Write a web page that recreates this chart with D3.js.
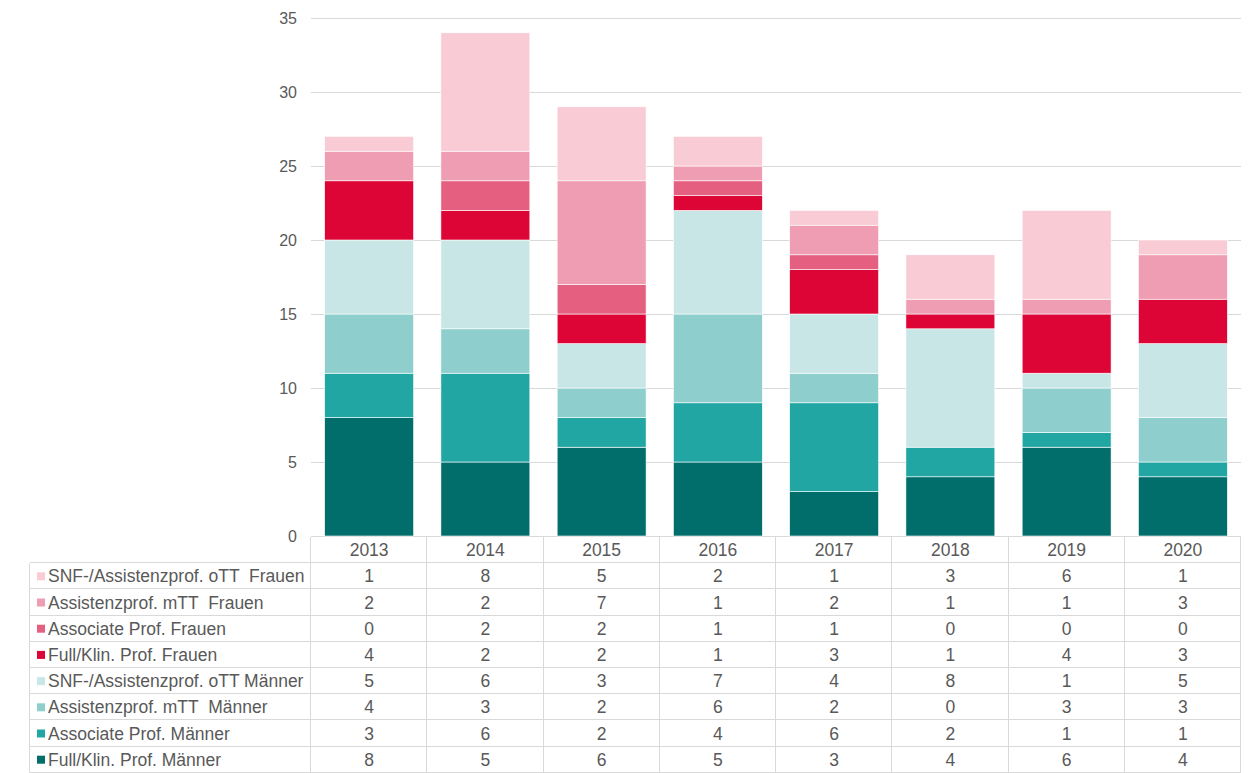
<!DOCTYPE html>
<html>
<head>
<meta charset="utf-8">
<script src="https://cdn.jsdelivr.net/npm/d3@7"></script>
<style>
  body { margin: 0; background: #fff; }
  svg { display: block; font-family: "Liberation Sans", Arial, sans-serif; }
</style>
</head>
<body>
<svg id="chart" width="1252" height="773"></svg>
<script>
const years = ['2013', '2014', '2015', '2016', '2017', '2018', '2019', '2020'];

// stacking order, bottom to top
const seriesNames = [
  'Full/Klin. Prof. Männer',
  'Associate Prof. Männer',
  'Assistenzprof. mTT  Männer',
  'SNF-/Assistenzprof. oTT Männer',
  'Full/Klin. Prof. Frauen',
  'Associate Prof. Frauen',
  'Assistenzprof. mTT  Frauen',
  'SNF-/Assistenzprof. oTT  Frauen',
];
const seriesColors = ['#016e6c', '#21a6a4', '#8ecfcd', '#c9e6e6', '#dd0536', '#e56080', '#ee9db2', '#f9cbd5'];

const fullMen = [8, 5, 6, 5, 3, 4, 6, 4];
const assocMen = [3, 6, 2, 4, 6, 2, 1, 1];
const asstTTMen = [4, 3, 2, 6, 2, 0, 3, 3];
const snfMen = [5, 6, 3, 7, 4, 8, 1, 5];
const fullWomen = [4, 2, 2, 1, 3, 1, 4, 3];
const assocWomen = [0, 2, 2, 1, 1, 0, 0, 0];
const asstTTWomen = [2, 2, 7, 1, 2, 1, 1, 3];
const snfWomen = [1, 8, 5, 2, 1, 3, 6, 1];

const seriesValues = [fullMen, assocMen, asstTTMen, snfMen, fullWomen, assocWomen, asstTTWomen, snfWomen];
const yTicks = [0, 5, 10, 15, 20, 25, 30, 35];

const svg = d3.select('#chart');
const textColor = '#595959';
const gridColor = '#d9d9d9';

const plotLeft = 311, plotRight = 1241, plotTop = 18, plotBottom = 536;

const x = d3.scaleBand().domain(years).range([plotLeft, plotRight]).paddingInner(0.235).paddingOuter(0.1175);
const xCell = d3.scaleBand().domain(years).range([plotLeft, plotRight]);
const y = d3.scaleLinear().domain([0, 35]).range([plotBottom, plotTop]);

// gridlines
svg.append('g')
  .selectAll('line')
  .data(yTicks)
  .join('line')
  .attr('x1', plotLeft).attr('x2', plotRight)
  .attr('y1', d => y(d) + 0.5).attr('y2', d => y(d) + 0.5)
  .attr('stroke', gridColor).attr('stroke-width', 1);

// y tick labels
svg.append('g')
  .selectAll('text')
  .data(yTicks)
  .join('text')
  .attr('x', 297).attr('y', d => y(d))
  .attr('dy', '0.35em')
  .attr('text-anchor', 'end')
  .attr('font-size', 16)
  .attr('fill', textColor)
  .text(d => d);

// stacked bars
const rows = years.map((yr, i) => {
  const r = { year: yr };
  seriesNames.forEach((s, j) => { r[s] = seriesValues[j][i]; });
  return r;
});
const stacked = d3.stack().keys(seriesNames)(rows);

svg.append('g')
  .selectAll('g')
  .data(stacked)
  .join('g')
  .attr('fill', (d, i) => seriesColors[i])
  .selectAll('rect')
  .data(d => d)
  .join('rect')
  .attr('x', d => x(d.data.year))
  .attr('width', x.bandwidth())
  .attr('y', d => y(d[1]))
  .attr('height', d => y(d[0]) - y(d[1]))
  .attr('stroke', '#fff')
  .attr('stroke-width', 0.6);

// data table
const tableTop = 537, rowH = 26.2, labelLeft = 30;
const fs = 17.5;
const table = svg.append('g');
const tableRows = seriesNames.slice().reverse();
const tableVals = seriesValues.slice().reverse();
const tableColors = seriesColors.slice().reverse();

// header cells (year labels)
table.selectAll('text.year')
  .data(years)
  .join('text')
  .attr('class', 'year')
  .attr('x', d => xCell(d) + xCell.bandwidth() / 2)
  .attr('y', tableTop + rowH / 2)
  .attr('dy', '0.35em')
  .attr('text-anchor', 'middle')
  .attr('font-size', fs)
  .attr('fill', textColor)
  .text(d => d);

// horizontal lines
const hLines = d3.range(1, tableRows.length + 2);
table.selectAll('line.h')
  .data(hLines)
  .join('line')
  .attr('class', 'h')
  .attr('x1', labelLeft)
  .attr('x2', plotRight)
  .attr('y1', d => Math.round(tableTop + d * rowH) - 0.5)
  .attr('y2', d => Math.round(tableTop + d * rowH) - 0.5)
  .attr('stroke', gridColor);

// vertical lines
const vX = [plotLeft].concat(years.map(d => xCell(d) + xCell.bandwidth()));
table.selectAll('line.v')
  .data(vX)
  .join('line')
  .attr('class', 'v')
  .attr('x1', d => Math.round(d) - 0.5).attr('x2', d => Math.round(d) - 0.5)
  .attr('y1', tableTop).attr('y2', tableTop + rowH * 9)
  .attr('stroke', gridColor);
table.append('line')
  .attr('x1', labelLeft - 0.5).attr('x2', labelLeft - 0.5)
  .attr('y1', tableTop + rowH).attr('y2', tableTop + rowH * 9)
  .attr('stroke', gridColor);

const rowG = table.selectAll('g.row')
  .data(tableRows)
  .join('g')
  .attr('class', 'row')
  .attr('transform', (d, i) => `translate(0,${tableTop + (i + 1) * rowH})`);

rowG.append('rect')
  .attr('x', 37).attr('y', rowH / 2 - 4)
  .attr('width', 8).attr('height', 8)
  .attr('fill', (d, i) => tableColors[i]);

rowG.append('text')
  .attr('x', 48).attr('y', rowH / 2)
  .attr('dy', '0.35em')
  .attr('font-size', fs)
  .attr('fill', textColor)
  .attr('xml:space', 'preserve')
  .style('white-space', 'pre')
  .text(d => d);

rowG.each(function (d, i) {
  d3.select(this).selectAll('text.val')
    .data(tableVals[i])
    .join('text')
    .attr('class', 'val')
    .attr('x', (v, k) => xCell(years[k]) + xCell.bandwidth() / 2)
    .attr('y', rowH / 2)
    .attr('dy', '0.35em')
    .attr('text-anchor', 'middle')
    .attr('font-size', fs)
    .attr('fill', textColor)
    .text(v => v);
});
</script>
</body>
</html>
